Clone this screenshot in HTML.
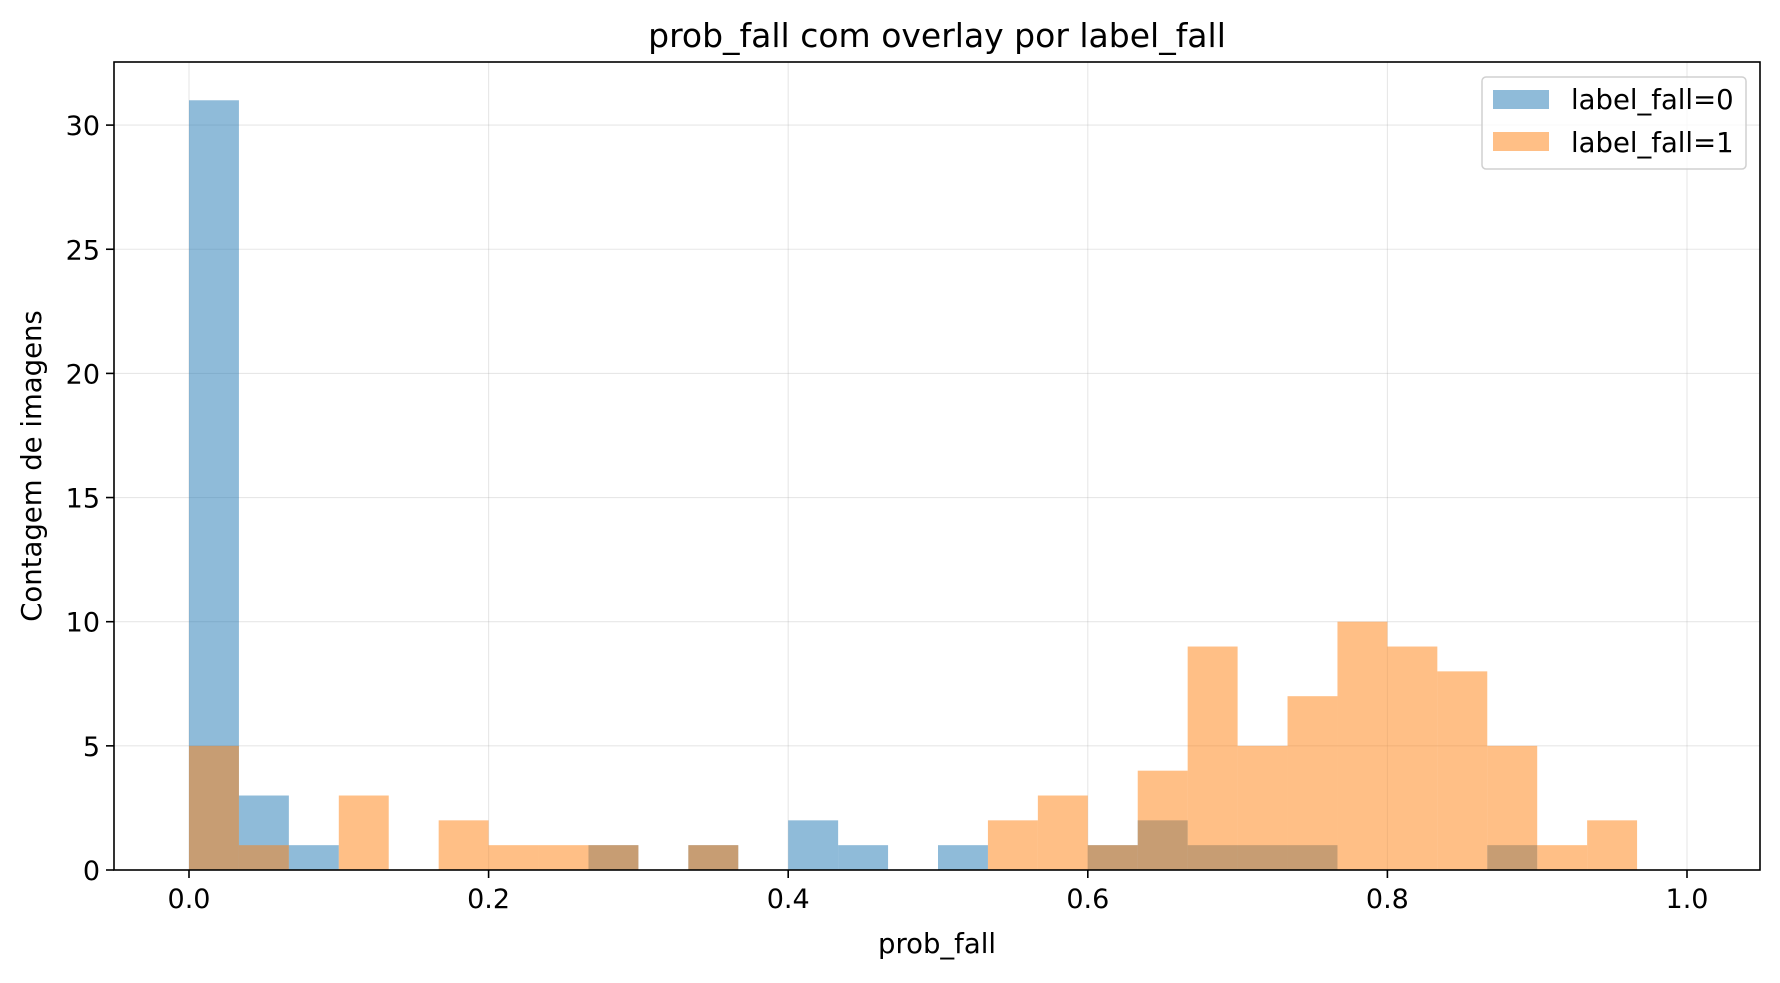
<!DOCTYPE html>
<html><head><meta charset="utf-8"><style>
html,body{margin:0;padding:0;background:#fff;}
svg text{font-family:"DejaVu Sans","Liberation Sans",sans-serif;fill:#000;}
</style></head><body>
<svg id="chart" width="1780" height="978" xmlns="http://www.w3.org/2000/svg">
<rect width="1780" height="978" fill="#fff"/>
<g id="grid"></g>
<g id="bars0"></g>
<g id="bars1"></g>
<rect x="114" y="62" width="1646" height="808" fill="none" stroke="#000" stroke-width="1.6"/>
<g id="ticks"></g>
<text x="937" y="47" font-size="33" text-anchor="middle">prob_fall com overlay por label_fall</text>
<text x="937" y="953" font-size="27.5" text-anchor="middle">prob_fall</text>
<text x="41" y="466" font-size="27.5" text-anchor="middle" transform="rotate(-90 41 466)">Contagem de imagens</text>
<g>
<rect x="1482" y="77" width="264" height="92" rx="4" fill="#fff" fill-opacity="0.8" stroke="#d0d0d0" stroke-width="1.5"/>
<rect x="1493" y="90" width="56" height="19" fill="#1f77b4" fill-opacity="0.5"/>
<text x="1571" y="109" font-size="27.5">label_fall=0</text>
<rect x="1493" y="132" width="56" height="19" fill="#ff7f0e" fill-opacity="0.5"/>
<text x="1571" y="152" font-size="27.5">label_fall=1</text>
</g>
</svg>
<script>
const binCount = 30;
const counts0 = [31,3,1,0,0,0,0,0,1,0,1,0,2,1,0,1,0,0,1,2,1,1,1,0,0,0,1,0,0,0];
const counts1 = [5,1,0,3,0,2,1,1,1,0,1,0,0,0,0,0,2,3,1,4,9,5,7,10,9,8,5,1,2,0];
const xTicks = [0,0.2,0.4,0.6,0.8,1.0];
const xTickLabels = ["0.0","0.2","0.4","0.6","0.8","1.0"];
const yTicks = [0,5,10,15,20,25,30];

const NS="http://www.w3.org/2000/svg";
const X0=189, XS=1498, Y0=870, YS=24.83;
const L=114, R=1760, T=62;
function xs(v){return X0+v*XS;}
function ys(v){return Y0-v*YS;}
function mk(tag,attrs,parent){const e=document.createElementNS(NS,tag);for(const k in attrs)e.setAttribute(k,attrs[k]);parent.appendChild(e);return e;}
const grid=document.getElementById('grid'), ticks=document.getElementById('ticks');
xTicks.forEach((v,i)=>{
  const g=mk('line',{x1:xs(v),x2:xs(v),y1:T,y2:Y0,stroke:'#b0b0b0','stroke-opacity':0.3,'stroke-width':1.1},grid);
  
  
  const t=mk('line',{x1:xs(v),x2:xs(v),y1:Y0,y2:Y0+8,stroke:'#000','stroke-width':1.6},ticks);
  
  
  const tx=mk('text',{x:xs(v),y:Y0+38,'font-size':27,'text-anchor':'middle'},ticks);
  tx.textContent=xTickLabels[i];
  
  
});
yTicks.forEach(v=>{
  const g=mk('line',{x1:L,x2:R,y1:ys(v),y2:ys(v),stroke:'#b0b0b0','stroke-opacity':0.3,'stroke-width':1.1},grid);
  
  
  const t=mk('line',{x1:L-8,x2:L,y1:ys(v),y2:ys(v),stroke:'#000','stroke-width':1.6},ticks);
  
  
  const tx=mk('text',{x:L-14,y:ys(v)+10,'font-size':27,'text-anchor':'end'},ticks);
  tx.textContent=String(v);
  
  
});
function drawBars(arr,gid,color){
  const g=document.getElementById(gid);
  arr.forEach((c,i)=>{
    if(!c)return;
    const a=xs(i/binCount), b=xs((i+1)/binCount);
    const r=mk('rect',{x:a,y:ys(c),width:b-a,height:ys(0)-ys(c),fill:color,'fill-opacity':0.5},g);
    
    
  });
}
drawBars(counts0,'bars0','#1f77b4');
drawBars(counts1,'bars1','#ff7f0e');
</script>
</body></html>
